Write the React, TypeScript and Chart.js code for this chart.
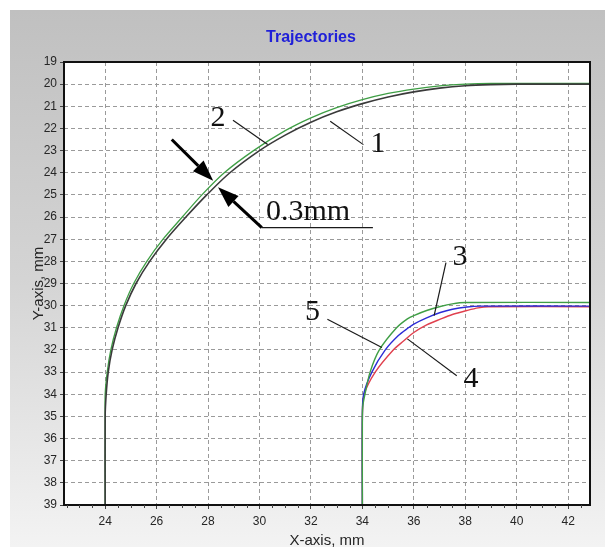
import React, { useEffect, useRef } from 'react';
import { Chart, registerables } from 'chart.js';

Chart.register(...registerables);

// ---- axes ----
const X_MIN = 22.4;
const X_MAX = 42.85;
const Y_MIN = 19;
const Y_MAX = 39;
const X_TICKS = [24, 26, 28, 30, 32, 34, 36, 38, 40, 42];
const Y_TICKS = [19, 20, 21, 22, 23, 24, 25, 26, 27, 28, 29, 30, 31, 32, 33, 34, 35, 36, 37, 38, 39];

// ---- trajectory 1 (black) ----
const T1_X = [24, 24, 24.04, 24.12, 24.27, 24.5, 24.8, 25.2, 25.73, 26.38, 27.14, 27.95, 28.85, 30.0, 31, 32, 33, 34, 35, 36, 37, 38, 39, 40, 42.9];
const T1_Y = [39, 35, 34, 33, 32, 31, 30, 29, 28, 27, 26, 25, 24, 23, 22.3, 21.72, 21.25, 20.88, 20.58, 20.35, 20.18, 20.07, 20.02, 20.0, 20.0];

// ---- trajectory 2 (green, +0.3 mm) ----
const T2_X = [24, 24, 24.0, 24.08, 24.22, 24.44, 24.73, 25.11, 25.62, 26.25, 27.0, 27.76, 28.63, 29.77, 31, 32, 33, 34, 35, 36, 37, 38, 39, 42.9];
const T2_Y = [39, 35, 34, 33, 32, 31, 30, 29, 28, 27, 26, 25, 24, 23, 22.1, 21.52, 21.06, 20.7, 20.42, 20.22, 20.08, 20.0, 19.97, 19.97];

// ---- trajectory 3 (blue) ----
const T3_X = [34, 34, 34.05, 34.37, 34.89, 35.4, 35.79, 36, 36.5, 37.03, 37.5, 38.06, 38.6, 42.9];
const T3_Y = [39, 35, 34, 33, 32, 31.35, 31, 30.83, 30.55, 30.31, 30.16, 30.06, 30.02, 30.02];

// ---- trajectory 4 (red) ----
const T4_X = [34, 34, 34.07, 34.5, 35.2, 35.6, 36, 36.5, 37.03, 37.5, 38.06, 38.5, 38.9, 42.9];
const T4_Y = [39, 35, 34, 33, 32, 31.6, 31.21, 30.87, 30.61, 30.4, 30.22, 30.1, 30.05, 30.05];

// ---- trajectory 5 (green) ----
const T5_X = [34, 34, 34.02, 34.1, 34.3, 34.66, 35.33, 35.75, 36, 36.5, 37.03, 37.5, 38, 42.9];
const T5_Y = [39, 35, 34.5, 34, 33, 32, 31, 30.6, 30.45, 30.22, 30.04, 29.92, 29.86, 29.86];

// ---- annotations (data coordinates) ----
const LABEL_TEXT = ['1', '2', '3', '4', '5'];
const LABEL_X = [34.61, 28.39, 37.8, 38.22, 32.06];
const LABEL_Y = [22.71, 21.54, 27.83, 33.31, 30.31];
const LEADER_X1 = [32.75, 28.97, 37.25, 35.75, 32.64];
const LEADER_Y1 = [21.68, 21.63, 28.06, 31.5, 30.61];
const LEADER_X2 = [34.04, 30.32, 36.79, 37.67, 34.76];
const LEADER_Y2 = [22.73, 22.72, 30.45, 33.16, 31.89];
const ARROW_FROM_X = [26.59, 30.09];
const ARROW_FROM_Y = [22.5, 26.48];
const ARROW_TO_X = [28.2, 28.39];
const ARROW_TO_Y = [24.36, 24.65];
const DIM_LINE_X = [30.09, 34.41];
const DIM_LINE_Y = [26.48, 26.48];
const DIM_TEXT = '0.3mm';
const DIM_TEXT_X = 30.25;
const DIM_TEXT_Y = 26.15;
const TITLE = 'Trajectories';
const X_TITLE = 'X-axis, mm';
const Y_TITLE = 'Y-axis, mm';

const pts = (xs: number[], ys: number[]) => xs.map((x, i) => ({ x, y: ys[i] }));

const SERIF = "'Liberation Serif', 'Times New Roman', serif";
const SANS = "'Liberation Sans', Arial, sans-serif";

const decorPlugin = {
  id: 'decor',
  beforeDraw(chart: any) {
    const { ctx, width, height, chartArea } = chart;
    ctx.save();
    ctx.fillStyle = '#ffffff';
    ctx.fillRect(0, 0, width, height);
    const g = ctx.createLinearGradient(0, 10, 0, height);
    g.addColorStop(0, '#c0c0c0');
    g.addColorStop(0.5, '#d4d4d4');
    g.addColorStop(1, '#f3f3f3');
    ctx.fillStyle = g;
    ctx.fillRect(10, 10, width - 10, height - 10);
    ctx.fillStyle = '#ffffff';
    ctx.fillRect(chartArea.left, chartArea.top, chartArea.right - chartArea.left, chartArea.bottom - chartArea.top);
    ctx.fillStyle = '#2020d8';
    ctx.font = `bold 16px ${SANS}`;
    ctx.textAlign = 'center';
    ctx.textBaseline = 'middle';
    ctx.fillText(TITLE, 311, 38);
    ctx.restore();
  },
  afterDraw(chart: any) {
    const { ctx, chartArea } = chart;
    const xs = chart.scales.x;
    const ys = chart.scales.y;
    const px = (v: number) => xs.getPixelForValue(v);
    const py = (v: number) => ys.getPixelForValue(v);
    ctx.save();
    // plot border
    ctx.strokeStyle = '#111';
    ctx.lineWidth = 2;
    ctx.strokeRect(chartArea.left, chartArea.top, chartArea.right - chartArea.left, chartArea.bottom - chartArea.top);
    // minor x ticks
    ctx.lineWidth = 1;
    ctx.strokeStyle = '#444';
    for (let v = 22.5; v <= 42.75; v += 0.5) {
      if (X_TICKS.includes(v)) continue;
      const x = Math.round(px(v)) + 0.5;
      ctx.beginPath();
      ctx.moveTo(x, chartArea.bottom);
      ctx.lineTo(x, chartArea.bottom + 3);
      ctx.stroke();
    }
    // leader lines
    ctx.strokeStyle = '#1a1a1a';
    ctx.lineWidth = 1.2;
    for (let i = 0; i < LEADER_X1.length; i++) {
      ctx.beginPath();
      ctx.moveTo(px(LEADER_X1[i]), py(LEADER_Y1[i]));
      ctx.lineTo(px(LEADER_X2[i]), py(LEADER_Y2[i]));
      ctx.stroke();
    }
    // dimension line
    ctx.beginPath();
    ctx.moveTo(px(DIM_LINE_X[0]), py(DIM_LINE_Y[0]));
    ctx.lineTo(px(DIM_LINE_X[1]), py(DIM_LINE_Y[1]));
    ctx.stroke();
    // arrows
    ctx.fillStyle = '#000';
    ctx.strokeStyle = '#000';
    for (let i = 0; i < ARROW_FROM_X.length; i++) {
      const x1 = px(ARROW_FROM_X[i]);
      const y1 = py(ARROW_FROM_Y[i]);
      const x2 = px(ARROW_TO_X[i]);
      const y2 = py(ARROW_TO_Y[i]);
      const ang = Math.atan2(y2 - y1, x2 - x1);
      const head = 21;
      const half = 7.5;
      const bx = x2 - head * Math.cos(ang);
      const by = y2 - head * Math.sin(ang);
      ctx.lineWidth = 3;
      ctx.beginPath();
      ctx.moveTo(x1, y1);
      ctx.lineTo(bx, by);
      ctx.stroke();
      ctx.beginPath();
      ctx.moveTo(x2, y2);
      ctx.lineTo(bx + half * Math.sin(ang), by - half * Math.cos(ang));
      ctx.lineTo(bx - half * Math.sin(ang), by + half * Math.cos(ang));
      ctx.closePath();
      ctx.fill();
    }
    // number labels
    ctx.fillStyle = '#111';
    ctx.font = `30px ${SERIF}`;
    ctx.textAlign = 'center';
    ctx.textBaseline = 'middle';
    for (let i = 0; i < LABEL_TEXT.length; i++) {
      ctx.fillText(LABEL_TEXT[i], px(LABEL_X[i]), py(LABEL_Y[i]));
    }
    ctx.font = `30px ${SERIF}`;
    ctx.textAlign = 'left';
    ctx.textBaseline = 'alphabetic';
    ctx.fillText(DIM_TEXT, px(DIM_TEXT_X), py(DIM_TEXT_Y));
    ctx.restore();
  },
};

export default function App() {
  const ref = useRef<HTMLCanvasElement>(null);
  useEffect(() => {
    if (!ref.current) return;
    const line = (data: any, color: string, width: number) => ({
      data,
      borderColor: color,
      backgroundColor: color,
      borderWidth: width,
      pointRadius: 0,
      tension: 0.3,
      fill: false,
    });
    const chart = new Chart(ref.current, {
      type: 'scatter',
      data: {
        datasets: [
          { ...line(pts(T1_X, T1_Y), '#3a3a3a', 1.6), label: '1', showLine: true },
          { ...line(pts(T2_X, T2_Y), '#3f9e45', 1.3), label: '2', showLine: true },
          { ...line(pts(T5_X, T5_Y), '#3f9e45', 1.4), label: '5', showLine: true },
          { ...line(pts(T3_X, T3_Y), '#2b2bd6', 1.4), label: '3', showLine: true },
          { ...line(pts(T4_X, T4_Y), '#e0404e', 1.4), label: '4', showLine: true },
        ],
      },
      options: {
        animation: false,
        responsive: false,
        layout: { padding: { left: 10, right: 15, top: 62, bottom: 0 } },
        plugins: { legend: { display: false }, tooltip: { enabled: false }, title: { display: false } },
        scales: {
          x: {
            type: 'linear',
            min: X_MIN,
            max: X_MAX,
            afterBuildTicks: (s: any) => { s.ticks = X_TICKS.map((v) => ({ value: v })); },
            afterFit: (s: any) => { s.height = 42; },
            ticks: { color: '#262626', font: { family: SANS, size: 12 }, padding: 5, maxRotation: 0, autoSkip: false },
            grid: { color: '#9a9a9a', lineWidth: 1, tickLength: 4, tickColor: '#444' },
            border: { display: false, dash: [4, 3] },
            title: { display: true, text: X_TITLE, color: '#262626', font: { family: SANS, size: 15, lineHeight: 0.8 }, padding: { top: 0, bottom: 0 } },
          },
          y: {
            type: 'linear',
            reverse: true,
            min: Y_MIN,
            max: Y_MAX,
            afterBuildTicks: (s: any) => { s.ticks = Y_TICKS.map((v) => ({ value: v })); },
            afterFit: (s: any) => { s.width = 54; },
            ticks: { color: '#262626', font: { family: SANS, size: 12 }, padding: 3, autoSkip: false },
            grid: { color: '#9a9a9a', lineWidth: 1, tickLength: 4, tickColor: '#444' },
            border: { display: false, dash: [4, 3] },
            title: { display: true, text: Y_TITLE, color: '#262626', font: { family: SANS, size: 15, lineHeight: 1.2 }, padding: { top: 20, bottom: 0 } },
          },
        },
      },
      plugins: [decorPlugin],
    } as any);
    return () => chart.destroy();
  }, []);
  return (
    <div style={{ position: 'absolute', left: 0, top: 0, width: 605, height: 547 }}>
      <canvas ref={ref} width={605} height={547} style={{ display: 'block' }} />
    </div>
  );
}
